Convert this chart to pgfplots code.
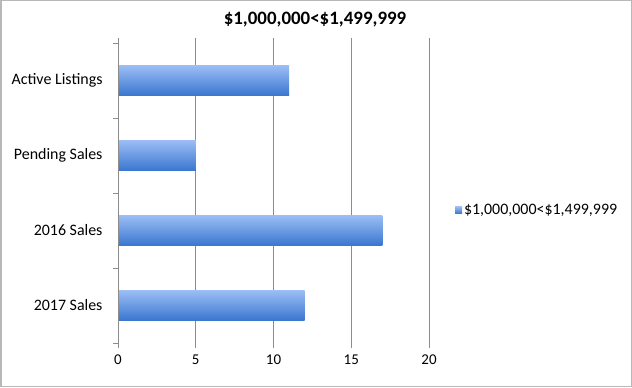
\documentclass[border=0pt]{standalone}
\usepackage{pgfplots}
\pgfplotsset{compat=1.18}
\usepackage{fontspec}
\setmainfont{Carlito}
\definecolor{bartop}{HTML}{9BBDF5}
\definecolor{barbot}{HTML}{3A76CF}
\definecolor{gridc}{HTML}{8C8C8C}
\begin{document}
\begin{tikzpicture}[x=1bp,y=1bp]
\useasboundingbox (0,0) rectangle (632,387);
\draw[color=black!28, line width=1.5bp] (0.75,0.75) rectangle (631.25,386.25);
\node[font=\fontsize{19}{22}\selectfont\bfseries] at (315,367) {\$1,000,000<\$1,499,999};
\begin{axis}[
  at={(118bp,44bp)}, anchor=south west,
  scale only axis, width=311bp, height=300bp,
  xbar, bar width=30bp, bar shift=0pt,
  xmin=0, xmax=20, ymin=-0.5, ymax=3.5,
  xtick={0,5,10,15,20},
  ytick={0,1,2,3},
  yticklabels={2017 Sales,2016 Sales,Pending Sales,Active Listings},
  xmajorgrids, grid style={gridc, line width=0.8bp},
  axis line style={draw=none},
  tick align=outside,
  major tick length=5bp,
  y tick style={draw=none},
  x tick style={gridc, line width=0.8bp},
  tick label style={font=\fontsize{16}{18}\selectfont},
  xticklabel style={font=\fontsize{15}{18}\selectfont, yshift=-3bp},
  /pgf/number format/assume math mode=true,
  yticklabel style={xshift=-7bp},
  legend style={at={(1.083,0.443)}, anchor=west, draw=none, fill=none,
    font=\fontsize{16}{18}\selectfont, inner sep=0pt},
  legend image code/.code={\fill[top color=bartop, bottom color=barbot] (0bp,-3.5bp) rectangle (7bp,3.5bp);},
]
\addplot[xbar, draw=none, top color=bartop, bottom color=barbot] coordinates {(12,0)};
\addlegendentry{\$1,000,000<\$1,499,999}
\addplot[xbar, draw=none, top color=bartop, bottom color=barbot, forget plot] coordinates {(17,1)};
\addplot[xbar, draw=none, top color=bartop, bottom color=barbot, forget plot] coordinates {(5,2)};
\addplot[xbar, draw=none, top color=bartop, bottom color=barbot, forget plot] coordinates {(11,3)};
\end{axis}
\draw[gridc, line width=0.8bp] (118,44) -- (118,344);
\foreach \k in {0,...,4} {\draw[gridc, line width=0.8bp] (113,44+75*\k) -- (118,44+75*\k);}
\end{tikzpicture}
\end{document}
